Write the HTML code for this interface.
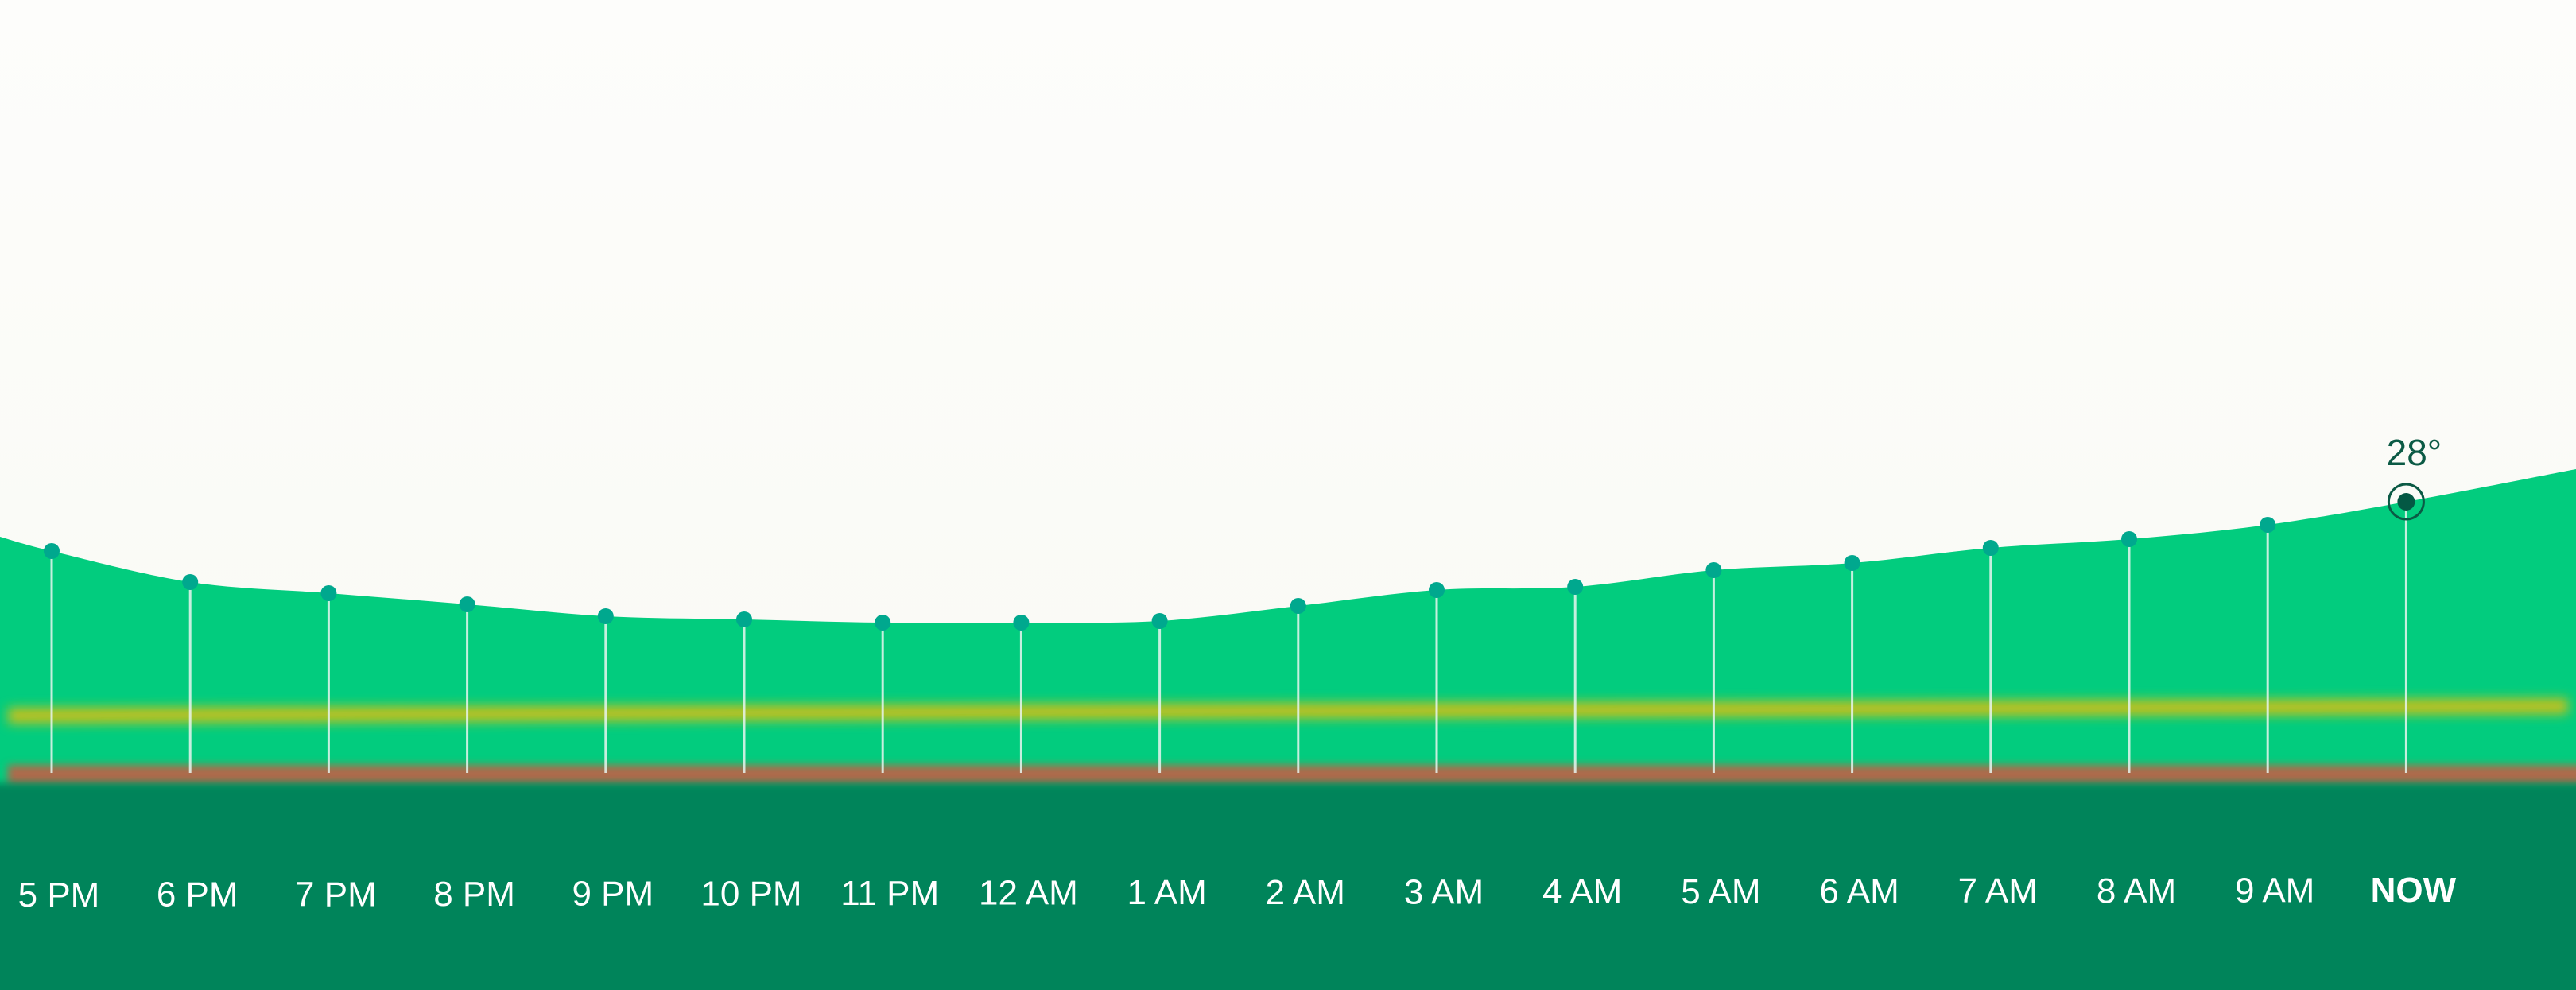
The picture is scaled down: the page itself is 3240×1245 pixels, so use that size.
<!DOCTYPE html>
<html><head><meta charset="utf-8"><style>
html,body{margin:0;padding:0;background:#fbfbf7;}
svg{display:block;}
text{font-family:"Liberation Sans",sans-serif;}
</style></head><body>
<svg id="chart" width="3240" height="1245" viewBox="0 0 3240 1245" xmlns="http://www.w3.org/2000/svg">
<defs>
<filter id="blur" filterUnits="userSpaceOnUse" x="-100" y="800" width="3440" height="300"><feGaussianBlur stdDeviation="7"/></filter>
<filter id="blur2" filterUnits="userSpaceOnUse" x="-100" y="900" width="3440" height="400"><feGaussianBlur stdDeviation="5"/></filter>
<linearGradient id="bg" x1="0" y1="0" x2="0" y2="1"><stop offset="0" stop-color="#fdfdfb"/><stop offset="1" stop-color="#f8f9f3"/></linearGradient>
</defs>
<rect x="0" y="0" width="3240" height="1245" fill="url(#bg)"/>
<g id="plot"></g>
</svg>
<script>
const categories = ["5 PM","6 PM","7 PM","8 PM","9 PM","10 PM","11 PM","12 AM","1 AM","2 AM","3 AM","4 AM","5 AM","6 AM","7 AM","8 AM","9 AM","NOW"];
const temps = [24.9,22.95,22.25,21.55,20.8,20.6,20.4,20.4,20.5,21.45,22.45,22.65,23.7,24.15,25.1,25.65,26.55,28];
const edgeLeftTemp = 25.8;
const edgeRightTemp = 30.05;
const currentLabel = "28°";

const NS = "http://www.w3.org/2000/svg";
const plot = document.getElementById('plot');
const xScale = i => 65 + i * 174.2;
const yScale = t => 631 + (28 - t) * 20;
function mk(tag, attrs){ const e=document.createElementNS(NS,tag); for(const k in attrs) e.setAttribute(k,attrs[k]); return e; }

const pts = [[0, yScale(edgeLeftTemp)]];
temps.forEach((t,i)=>pts.push([xScale(i), yScale(t)]));
pts.push([3240, yScale(edgeRightTemp)]);
let d = `M${pts[0][0]},${pts[0][1]}`;
for(let i=0;i<pts.length-1;i++){
  const p0=pts[Math.max(0,i-1)], p1=pts[i], p2=pts[i+1], p3=pts[Math.min(pts.length-1,i+2)];
  const c1x=p1[0]+(p2[0]-p0[0])/6, c1y=p1[1]+(p2[1]-p0[1])/6;
  const c2x=p2[0]-(p3[0]-p1[0])/6, c2y=p2[1]-(p3[1]-p1[1])/6;
  d+=` C${c1x},${c1y} ${c2x},${c2y} ${p2[0]},${p2[1]}`;
}
const area = mk('path',{d: d+' L3240,1245 L0,1245 Z', fill:'#02cc7e'});


plot.appendChild(area);

const yb = mk('polygon',{points:'10,890 3230,878 3230,898 10,910',fill:'#c2c11f',filter:'url(#blur)'});


plot.appendChild(yb);

const rb = mk('rect',{x:10,y:962,width:3260,height:26,fill:'#ad6a4c',filter:'url(#blur2)'});


plot.appendChild(rb);

const dark = mk('rect',{x:-20,y:985,width:3280,height:300,fill:'#00845a',filter:'url(#blur2)'});


plot.appendChild(dark);

temps.forEach((t,i)=>{
  const x=xScale(i), y=yScale(t), last = i===temps.length-1;
  const ln = mk('line',{x1:x,y1:y,x2:x,y2:972,stroke:'#e8f5ee','stroke-width':3,'stroke-opacity':0.85});
  
  
  plot.appendChild(ln);
  if(last){
    const ring = mk('circle',{cx:x,cy:y,r:22,fill:'none',stroke:'#0b5a45','stroke-width':3});
    
    
    plot.appendChild(ring);
  }
  const dot = mk('circle',{cx:x,cy:y,r:last?11:10,fill:last?'#045844':'#00a88e'});
  
  
  plot.appendChild(dot);
  const lb = mk('text',{x:x+9,y:1140 - i*0.35,'text-anchor':'middle','font-size':44,fill:'#ffffff','font-weight':last?'bold':'normal'});
  lb.textContent = categories[i];
  
  
  plot.appendChild(lb);
  if(last){
    const tl = mk('text',{x:x+10,y:y-46,'text-anchor':'middle','font-size':46,fill:'#0b5a45'});
    tl.textContent = currentLabel;
    
    
    plot.appendChild(tl);
  }
});
</script>
</body></html>
